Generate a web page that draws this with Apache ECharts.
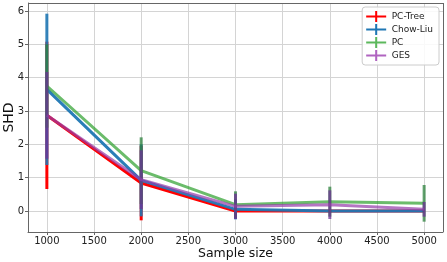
<!DOCTYPE html>
<html><head><meta charset="utf-8">
<script src="https://cdn.jsdelivr.net/npm/echarts@6/dist/echarts.min.js"></script>
<style>html,body{margin:0;padding:0;background:#fff}#c{width:447px;height:262px}</style>
</head><body><div id="c"></div>
<script>
const sampleSizes = [1000, 2000, 3000, 4000, 5000];
const xTicks = [1000, 1500, 2000, 2500, 3000, 3500, 4000, 4500, 5000];
const yTicks = [0, 1, 2, 3, 4, 5, 6];
const seriesNames = ['PC-Tree', 'Chow-Liu', 'PC', 'GES'];
const pcTreeMean = [2.87, 0.84, 0.00, 0.00, 0.00];
const pcTreeErr  = [2.21, 1.12, 0.00, 0.00, 0.00];
const chowLiuMean = [3.65, 0.92, 0.05, 0.00, 0.00];
const chowLiuErr  = [2.27, 1.08, 0.30, 0.00, 0.00];
const pcMean = [3.75, 1.21, 0.19, 0.28, 0.23];
const pcErr  = [1.25, 1.00, 0.40, 0.45, 0.55];
const gesMean = [2.87, 0.94, 0.14, 0.19, 0.05];
const gesErr  = [1.30, 0.88, 0.38, 0.43, 0.22];

const means = [pcTreeMean, chowLiuMean, pcMean, gesMean];
const errs = [pcTreeErr, chowLiuErr, pcErr, gesErr];
const lineColors = ['rgba(255,0,0,1)', 'rgba(31,119,180,0.95)', 'rgba(44,160,44,0.7)', 'rgba(148,60,170,0.7)'];
const barColors = ['rgba(255,0,0,1)', 'rgba(31,119,180,0.9)', 'rgba(44,130,60,0.75)', 'rgba(110,50,150,0.75)'];
const legendColors = ['#ff0000', '#1f77b4', '#5cb85c', '#b064c0'];

const series = [];
seriesNames.forEach((name, i) => {
  series.push({
    name: name + ' err', type: 'custom', z: 2 + i * 2,
    silent: true,
    data: sampleSizes.map((x, k) => [x, means[i][k] - errs[i][k], means[i][k] + errs[i][k]]),
    renderItem: function (params, api) {
      const p1 = api.coord([api.value(0), api.value(1)]);
      const p2 = api.coord([api.value(0), api.value(2)]);
      return { type: 'line', shape: { x1: p1[0], y1: p1[1], x2: p2[0], y2: p2[1] },
        style: { stroke: barColors[i], lineWidth: 3 } };
    },
    encode: { x: 0, y: [1, 2] }
  });
  series.push({
    name: name, type: 'line', z: 3 + i * 2,
    showSymbol: false, symbol: 'none',
    data: sampleSizes.map((x, k) => [x, means[i][k]]),
    lineStyle: { color: lineColors[i], width: 3 },
    itemStyle: { color: legendColors[i] }
  });
});

const crossIcon = 'path://M0,9h40v4h-40z M18,0h4v22h-4z';

const chart = echarts.init(document.getElementById('c'), null, { renderer: 'canvas' });
chart.setOption({
  animation: false,
  backgroundColor: '#fff',
  grid: { left: 28, top: 3, right: 4, bottom: 30, containLabel: false, outerBoundsMode: 'none' },
  legend: {
    data: seriesNames.map((n, i) => ({ name: n, icon: crossIcon, itemStyle: { color: legendColors[i] } })),
    orient: 'vertical', right: 8, top: 7,
    itemWidth: 21, itemHeight: 11, itemGap: 2,
    backgroundColor: 'rgba(255,255,255,0.85)',
    borderColor: '#cccccc', borderWidth: 1, borderRadius: 3,
    padding: [4, 6, 4, 4],
    textStyle: { fontFamily: 'DejaVu Sans', fontSize: 9, color: '#222' }
  },
  xAxis: {
    type: 'value', min: 800, max: 5200,
    name: 'Sample size', nameLocation: 'middle', nameGap: 15, nameMoveOverlap: false,
    nameTextStyle: { fontFamily: 'DejaVu Sans', fontSize: 12.5, color: '#111' },
    axisLine: { show: true, onZero: false, lineStyle: { color: '#666', width: 1 } },
    axisTick: { show: true, customValues: xTicks, length: 3, lineStyle: { color: '#666' } },
    axisLabel: { customValues: xTicks, formatter: v => String(v), fontFamily: 'DejaVu Sans', fontSize: 10, color: '#222', margin: 4 },
    splitLine: { show: true, lineStyle: { color: '#d4d4d4', width: 1 } }
  },
  yAxis: {
    type: 'value', min: -0.63, max: 6.24,
    name: 'SHD', nameLocation: 'middle', nameGap: 12, nameMoveOverlap: false,
    nameTextStyle: { fontFamily: 'DejaVu Sans', fontSize: 14, color: '#111' },
    axisLine: { show: true, onZero: false, lineStyle: { color: '#666', width: 1 } },
    axisTick: { show: true, customValues: yTicks, length: 3, lineStyle: { color: '#666' } },
    axisLabel: { customValues: yTicks, formatter: v => String(v), fontFamily: 'DejaVu Sans', fontSize: 10, color: '#222', margin: 4 },
    splitLine: { show: true, lineStyle: { color: '#d4d4d4', width: 1 } }
  },
  series: series.concat([{
    type: 'line', data: [], silent: true,
    markLine: { silent: true, symbol: 'none', label: { show: false },
      lineStyle: { color: '#666', type: 'solid', width: 1 },
      data: [[{ coord: [5200, -0.63] }, { coord: [5200, 6.24] }], [{ coord: [800, 6.24] }, { coord: [5200, 6.24] }]] }
  }])
});
</script>
</body></html>
